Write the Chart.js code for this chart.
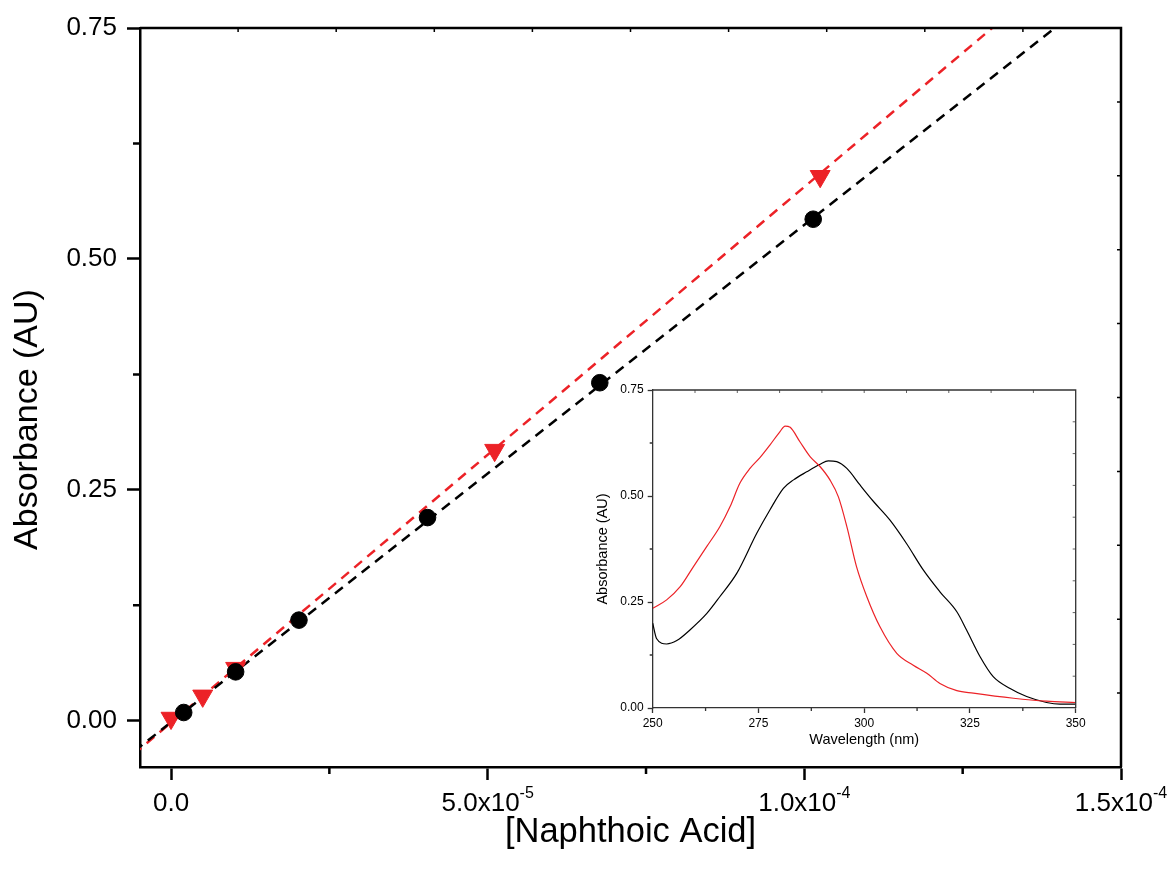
<!DOCTYPE html>
<html>
<head>
<meta charset="utf-8">
<script src="https://cdn.jsdelivr.net/npm/chart.js@4.4.1/dist/chart.umd.min.js"></script>
<style>
  html, body { margin: 0; padding: 0; background: #fff; }
  #wrap { position: relative; width: 1173px; height: 871px; }
  #main { position: absolute; left: 0; top: 0; }
  #inset { position: absolute; left: 575px; top: 375px; }
</style>
</head>
<body>
<div id="wrap">
  <canvas id="main" width="1173" height="871"></canvas>
  <canvas id="inset" width="520" height="385"></canvas>
</div>
<script>
// main plot: absorbance vs concentration
var blackConc = [2.0e-6, 1.02e-5, 2.02e-5, 4.05e-5, 6.77e-5, 1.014e-4];
var blackAbs  = [0.009, 0.053, 0.109, 0.220, 0.366, 0.543];
var redConc   = [0, 5.0e-6, 1.02e-5, 5.11e-5, 1.025e-4];
var redAbs    = [0.003, 0.027, 0.057, 0.293, 0.5895];
// linear fits [slope, intercept]
var blackFit = [5386, -0.0016];
var redFit   = [5800, -0.002];

var xMajor = [0, 5e-5, 1e-4, 1.5e-4];
var xMinor = [2.5e-5, 7.5e-5, 1.25e-4];
var xMant  = ['0.0', '5.0x10', '1.0x10', '1.5x10'];
var xExp   = ['', '-5', '-4', '-4'];
var yMajor = [0, 0.25, 0.5, 0.75];
var yMinor = [0.125, 0.375, 0.625];

// inset: spectra
var wl       = [250, 250.9, 253.3, 255.7, 258.8, 262.8, 265.9, 269.9, 274.6, 277.7, 280.9, 283.3, 286.4, 289.6, 291.5, 293.5, 295.9, 299.0, 302.2, 306.1, 310.0, 314.0, 317.9, 321.9, 324.2, 327.4, 330.5, 334.5, 338.4, 343.1, 346.3, 350];
var blackSpec = [0.200, 0.164, 0.151, 0.159, 0.184, 0.223, 0.263, 0.318, 0.412, 0.467, 0.518, 0.538, 0.557, 0.575, 0.583, 0.581, 0.565, 0.526, 0.487, 0.443, 0.388, 0.325, 0.274, 0.227, 0.184, 0.121, 0.074, 0.046, 0.027, 0.013, 0.009, 0.009];
var wlRed    = [250, 253.3, 256.5, 259.6, 262.8, 265.9, 268.3, 270.6, 273.0, 275.4, 277.7, 280.1, 281.3, 282.5, 284.8, 287.2, 289.6, 291.9, 293.9, 295.9, 298.2, 300.6, 303.7, 307.7, 311.6, 314.8, 317.9, 321.9, 325.8, 335.3, 343.1, 350];
var redSpec  = [0.235, 0.255, 0.286, 0.333, 0.381, 0.428, 0.475, 0.530, 0.565, 0.591, 0.620, 0.652, 0.665, 0.662, 0.628, 0.593, 0.569, 0.538, 0.498, 0.428, 0.333, 0.263, 0.192, 0.129, 0.101, 0.082, 0.058, 0.041, 0.035, 0.023, 0.016, 0.013];
var inXMajor = [250, 275, 300, 325, 350];
var inXMinor = [262.5, 287.5, 312.5, 337.5];

var FONT = '"Liberation Sans", Arial, sans-serif';
var RED = '#ec2227';

function pts(xs, ys) {
  return xs.map(function(v, i) { return {x: v, y: ys[i]}; });
}
function fitLine(fit, x0, x1) {
  return [{x: x0, y: fit[0] * x0 + fit[1]}, {x: x1, y: fit[0] * x1 + fit[1]}];
}

// frame on top/right, minor ticks, little ticks on top/right
var frameTicks = {
  id: 'frameTicks',
  afterDraw: function(chart, args, o) {
    var ctx = chart.ctx, a = chart.chartArea, x = chart.scales.x, y = chart.scales.y;
    ctx.save();
    ctx.strokeStyle = o.color;
    ctx.lineWidth = o.width;
    ctx.beginPath();
    ctx.moveTo(a.left, a.top);
    ctx.lineTo(a.right, a.top);
    ctx.lineTo(a.right, a.bottom);
    o.xMinor.forEach(function(v) {
      var px = x.getPixelForValue(v);
      ctx.moveTo(px, a.bottom);
      ctx.lineTo(px, a.bottom + o.minor);
    });
    o.yMinor.forEach(function(v) {
      var py = y.getPixelForValue(v);
      ctx.moveTo(a.left, py);
      ctx.lineTo(a.left - o.minor, py);
    });
    ctx.stroke();
    ctx.lineWidth = o.width * 0.6;
    ctx.beginPath();
    for (var i = 1; i < 10; i++) {
      var tx = a.left + (a.right - a.left) * i / 10;
      var ty = a.bottom - (a.bottom - a.top) * i / 10;
      ctx.moveTo(tx, a.top); ctx.lineTo(tx, a.top + o.small);
      ctx.moveTo(a.right, ty); ctx.lineTo(a.right - o.small, ty);
    }
    ctx.stroke();

    // x tick labels with superscript exponents
    if (o.expLabels) {
      ctx.fillStyle = '#000';
      ctx.textBaseline = 'alphabetic';
      xMajor.forEach(function(v, i) {
        var px = x.getPixelForValue(v);
        ctx.font = '26px ' + FONT;
        var w1 = ctx.measureText(xMant[i]).width;
        ctx.font = '16px ' + FONT;
        var w2 = ctx.measureText(xExp[i]).width;
        var left = px - (w1 + w2) / 2;
        ctx.textAlign = 'left';
        ctx.font = '26px ' + FONT;
        ctx.fillText(xMant[i], left, 811);
        ctx.font = '16px ' + FONT;
        ctx.fillText(xExp[i], left + w1, 798);
      });
    }
    // y title, set a bit below the axis centre as in the original
    if (o.yTitle) {
      ctx.save();
      ctx.translate(o.yTitle.x, (a.top + a.bottom) / 2 + o.yTitle.shift);
      ctx.rotate(-Math.PI / 2);
      ctx.textAlign = 'center';
      ctx.textBaseline = 'middle';
      ctx.fillStyle = '#000';
      ctx.font = o.yTitle.size + 'px ' + FONT;
      ctx.fillText(o.yTitle.text, 0, 0);
      ctx.restore();
    }
    ctx.restore();
  }
};
Chart.register(frameTicks);

new Chart(document.getElementById('main'), {
  type: 'scatter',
  data: {
    datasets: [
      {
        data: pts(blackConc, blackAbs),
        backgroundColor: '#000', borderColor: '#000',
        pointStyle: 'circle', pointRadius: 8.3, order: 0
      },
      {
        data: pts(redConc, redAbs),
        backgroundColor: RED, borderColor: RED,
        pointStyle: 'triangle', pointRotation: 180, pointRadius: 11.5, order: 1
      },
      {
        type: 'line',
        data: fitLine(blackFit, -1e-5, 1.6e-4),
        borderColor: '#000', borderWidth: 2.5, borderDash: [10, 7],
        pointRadius: 0, fill: false, order: 2
      },
      {
        type: 'line',
        data: fitLine(redFit, -1e-5, 1.6e-4),
        borderColor: RED, borderWidth: 2.5, borderDash: [10, 7],
        pointRadius: 0, fill: false, order: 3
      }
    ]
  },
  options: {
    responsive: false,
    animation: false,
    layout: { padding: { top: 28, right: 52, left: 0, bottom: 0 } },
    plugins: {
      legend: { display: false },
      tooltip: { enabled: false },
      frameTicks: {
        color: '#000', width: 2.5, minor: 7, small: 4, xMinor: xMinor, yMinor: yMinor, expLabels: true,
        yTitle: { text: 'Absorbance (AU)', size: 34, x: 28, shift: 22 }
      }
    },
    scales: {
      x: {
        type: 'linear', min: -4.9e-6, max: 1.5e-4,
        afterBuildTicks: function(s) { s.ticks = xMajor.map(function(v) { return {value: v}; }); },
        afterFit: function(s) { s.height = 104; },
        grid: { drawOnChartArea: false, tickLength: 13, tickWidth: 2.5, tickColor: '#000' },
        border: { color: '#000', width: 2.5 },
        ticks: { display: false },
        title: { display: true, text: '[Naphthoic Acid]', color: '#000', font: { family: FONT, size: 34.5 }, padding: { top: 0, bottom: 18 } }
      },
      y: {
        type: 'linear', min: -0.05, max: 0.75,
        afterBuildTicks: function(s) { s.ticks = yMajor.map(function(v) { return {value: v}; }); },
        afterFit: function(s) { s.width = 140; },
        grid: { drawOnChartArea: false, tickLength: 13, tickWidth: 2.5, tickColor: '#000' },
        border: { color: '#000', width: 2.5 },
        ticks: {
          color: '#000', padding: 10, font: { family: FONT, size: 26 },
          callback: function(v) { return v.toFixed(2); }
        },
        title: { display: false }
      }
    }
  }
});

new Chart(document.getElementById('inset'), {
  type: 'line',
  data: {
    datasets: [
      {
        data: pts(wlRed, redSpec),
        borderColor: RED, borderWidth: 1.2, pointRadius: 0,
        cubicInterpolationMode: 'monotone', fill: false
      },
      {
        data: pts(wl, blackSpec),
        borderColor: '#000', borderWidth: 1.2, pointRadius: 0,
        cubicInterpolationMode: 'monotone', fill: false
      }
    ]
  },
  options: {
    responsive: false,
    animation: false,
    layout: { padding: { top: 15, right: 19.3, left: 0, bottom: 0 } },
    plugins: {
      legend: { display: false },
      tooltip: { enabled: false },
      frameTicks: { color: '#333', width: 1.3, minor: 3, small: 3, xMinor: inXMinor, yMinor: yMinor, expLabels: false }
    },
    scales: {
      x: {
        type: 'linear', min: 250, max: 350,
        afterBuildTicks: function(s) { s.ticks = inXMajor.map(function(v) { return {value: v}; }); },
        afterFit: function(s) { s.height = 52; },
        grid: { drawOnChartArea: false, tickLength: 5, tickWidth: 1.3, tickColor: '#333' },
        border: { color: '#333', width: 1.3 },
        ticks: { color: '#000', padding: 3, maxRotation: 0, font: { family: FONT, size: 12 } },
        title: { display: true, text: 'Wavelength (nm)', color: '#000', font: { family: FONT, size: 14.5 }, padding: { top: 0, bottom: 11 } }
      },
      y: {
        type: 'linear', min: 0, max: 0.75,
        afterBuildTicks: function(s) { s.ticks = yMajor.map(function(v) { return {value: v}; }); },
        afterFit: function(s) { s.width = 77.7; },
        grid: { drawOnChartArea: false, tickLength: 5, tickWidth: 1.3, tickColor: '#333' },
        border: { color: '#333', width: 1.3 },
        ticks: {
          color: '#000', padding: 4, font: { family: FONT, size: 12 },
          callback: function(v) { return v.toFixed(2); }
        },
        title: { display: true, text: 'Absorbance (AU)', color: '#000', font: { family: FONT, size: 14.5 }, padding: { top: 19, bottom: 0 } }
      }
    }
  }
});
</script>
</body>
</html>
